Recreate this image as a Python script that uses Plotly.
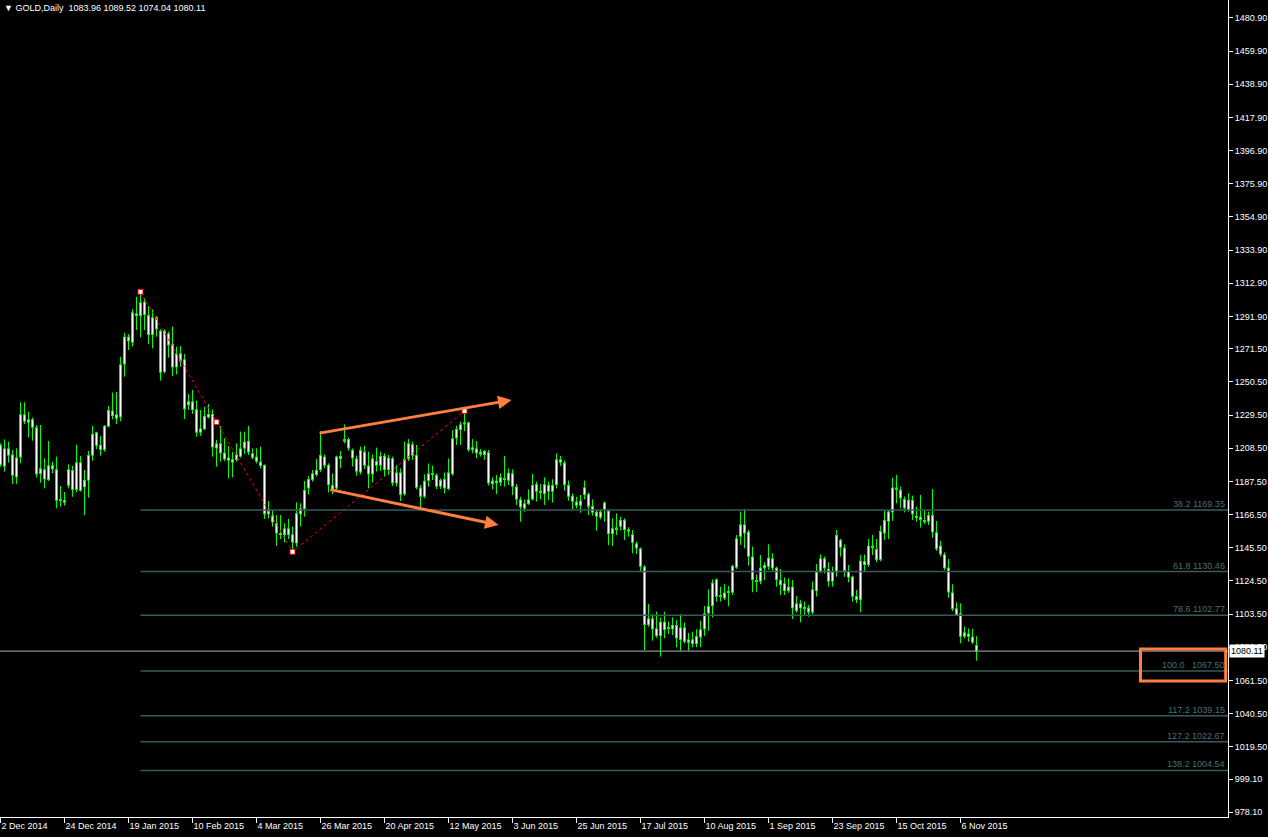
import pandas as pd
import plotly.graph_objects as go

# ---- trading calendar (weekdays without exchange holidays) ----
holidays = ["2014-12-25", "2015-01-01", "2015-04-03"]
all_days = pd.bdate_range("2014-12-02", "2015-11-12")
dates = [d for d in all_days if d.strftime("%Y-%m-%d") not in holidays]

# ---- GOLD daily OHLC ----
open_ = [
    1210.6, 1196.8, 1208.4, 1204.6, 1190.1, 1202.7, 1230.0, 1224.7, 1226.8, 1221.7,
    1192.2, 1195.2, 1188.4, 1197.7, 1195.2, 1175.3, 1175.7, 1184.8, 1194.7, 1182.1,
    1199.6, 1183.8, 1188.0, 1203.8, 1218.6, 1210.6, 1207.4, 1222.2, 1232.3, 1227.2,
    1228.1, 1261.6, 1279.1, 1275.3, 1293.9, 1292.2, 1301.3, 1292.8, 1280.2, 1291.4,
    1282.9, 1256.8, 1281.2, 1274.5, 1259.7, 1268.6, 1264.8, 1235.7, 1238.2, 1233.1,
    1218.4, 1220.5, 1227.9, 1230.2, 1208.4, 1211.6, 1205.7, 1202.7, 1199.4, 1201.1,
    1203.2, 1208.4, 1213.1, 1205.3, 1203.2, 1200.0, 1197.9, 1166.7, 1166.2, 1161.0,
    1154.6, 1153.6, 1157.8, 1154.0, 1148.3, 1166.7, 1170.0, 1183.1, 1188.4, 1191.6,
    1194.7, 1203.2, 1197.9, 1185.2, 1183.1, 1203.6, 1212.7, 1214.3, 1207.4, 1202.1,
    1193.2, 1206.3, 1197.5, 1192.0, 1200.4, 1197.5, 1203.8, 1194.7, 1202.1, 1186.3,
    1193.2, 1179.3, 1201.7, 1211.0, 1204.2, 1183.5, 1177.8, 1187.8, 1192.6, 1191.6,
    1184.2, 1189.0, 1182.7, 1192.0, 1214.8, 1220.0, 1223.6, 1224.9, 1207.4, 1208.4,
    1206.3, 1204.2, 1205.9, 1185.8, 1188.0, 1186.7, 1189.4, 1188.0, 1192.6, 1184.2,
    1176.1, 1170.4, 1173.2, 1176.1, 1185.8, 1181.6, 1179.5, 1185.2, 1181.0, 1185.2,
    1201.5, 1199.4, 1185.2, 1178.3, 1174.7, 1172.1, 1178.9, 1179.5, 1171.9, 1168.3,
    1164.7, 1169.4, 1169.0, 1154.2, 1157.2, 1158.8, 1163.1, 1155.7, 1154.0, 1148.3,
    1145.1, 1133.5, 1096.6, 1100.8, 1094.5, 1089.6, 1098.7, 1093.9, 1096.6, 1096.6,
    1087.1, 1095.1, 1087.5, 1084.6, 1089.6, 1088.8, 1093.9, 1104.0, 1108.6, 1125.5,
    1115.0, 1113.5, 1117.7, 1117.1, 1132.9, 1152.5, 1160.3, 1155.7, 1139.9, 1125.1,
    1124.1, 1132.5, 1133.5, 1138.8, 1132.9, 1125.1, 1123.0, 1118.1, 1120.9, 1105.5,
    1110.3, 1108.2, 1107.6, 1104.6, 1118.1, 1130.4, 1138.8, 1132.1, 1124.1, 1130.0,
    1150.4, 1145.6, 1130.8, 1127.2, 1115.0, 1112.4, 1137.1, 1134.6, 1146.8, 1144.7,
    1137.8, 1154.6, 1162.0, 1167.9, 1183.6, 1182.1, 1176.4, 1169.4, 1175.8, 1165.8,
    1165.2, 1163.1, 1162.0, 1166.2, 1155.3, 1146.8, 1141.3, 1132.9, 1117.3, 1107.2,
    1104.0, 1089.2, 1091.3, 1089.2, 1083.96,
]
high = [
    1211.6, 1214.1, 1212.7, 1207.4, 1208.4, 1237.6, 1237.6, 1231.7, 1227.9, 1223.2,
    1223.2, 1202.1, 1213.1, 1200.0, 1203.2, 1184.6, 1180.8, 1198.3, 1197.3, 1210.6,
    1203.6, 1194.7, 1206.8, 1222.6, 1219.0, 1216.3, 1223.2, 1235.2, 1243.7, 1244.1,
    1266.3, 1281.5, 1280.8, 1296.6, 1304.4, 1307.2, 1303.4, 1298.5, 1296.4, 1292.2,
    1283.8, 1283.8, 1282.3, 1285.5, 1272.8, 1273.2, 1268.2, 1242.8, 1245.4, 1238.6,
    1232.7, 1234.8, 1236.5, 1233.1, 1213.7, 1222.6, 1214.8, 1209.9, 1206.3, 1211.6,
    1219.0, 1219.0, 1222.6, 1208.4, 1208.4, 1209.5, 1198.3, 1175.1, 1169.4, 1166.2,
    1166.2, 1161.0, 1163.7, 1158.9, 1174.3, 1173.6, 1187.8, 1190.9, 1194.7, 1201.7,
    1219.4, 1204.6, 1198.9, 1192.6, 1203.8, 1206.8, 1223.6, 1215.2, 1208.4, 1203.8,
    1209.5, 1210.1, 1206.3, 1204.6, 1208.9, 1206.3, 1205.3, 1204.2, 1203.2, 1197.9,
    1195.8, 1212.7, 1214.3, 1212.7, 1210.6, 1185.2, 1192.0, 1198.9, 1197.5, 1192.6,
    1189.4, 1193.2, 1202.1, 1220.0, 1222.8, 1225.3, 1232.1, 1225.3, 1214.3, 1213.1,
    1208.0, 1207.4, 1207.4, 1190.1, 1191.5, 1192.6, 1203.6, 1195.8, 1195.1, 1185.8,
    1177.8, 1176.1, 1182.5, 1192.2, 1187.3, 1185.8, 1190.1, 1187.3, 1188.8, 1205.3,
    1203.6, 1200.6, 1188.0, 1179.9, 1177.8, 1178.9, 1188.0, 1180.4, 1176.1, 1169.4,
    1169.8, 1174.7, 1169.8, 1164.1, 1167.3, 1165.2, 1164.1, 1158.4, 1156.7, 1149.3,
    1145.7, 1134.6, 1109.9, 1103.6, 1105.0, 1101.4, 1105.0, 1098.7, 1101.4, 1099.8,
    1103.6, 1098.1, 1091.7, 1092.4, 1093.9, 1099.3, 1108.6, 1119.2, 1125.5, 1126.1,
    1120.9, 1122.5, 1121.3, 1134.8, 1153.6, 1168.4, 1170.1, 1156.8, 1146.2, 1128.7,
    1140.9, 1136.3, 1147.7, 1142.0, 1133.5, 1132.1, 1126.6, 1126.2, 1125.1, 1115.0,
    1112.4, 1111.4, 1109.3, 1124.1, 1135.2, 1141.3, 1139.9, 1136.3, 1133.5, 1156.8,
    1151.1, 1147.7, 1134.6, 1127.9, 1118.8, 1140.9, 1141.3, 1151.1, 1153.6, 1151.1,
    1159.5, 1168.8, 1169.4, 1189.9, 1191.6, 1184.2, 1177.9, 1180.0, 1178.5, 1171.5,
    1178.9, 1169.4, 1168.4, 1182.7, 1162.5, 1149.8, 1142.6, 1138.4, 1122.4, 1111.0,
    1110.3, 1095.6, 1094.5, 1094.1, 1089.52,
]
low = [
    1196.8, 1193.7, 1199.4, 1185.9, 1185.9, 1199.0, 1223.8, 1215.4, 1213.3, 1190.1,
    1186.7, 1183.1, 1187.8, 1192.6, 1170.5, 1171.5, 1172.2, 1183.1, 1177.8, 1180.6,
    1181.0, 1166.2, 1177.2, 1200.6, 1208.0, 1203.8, 1206.3, 1221.7, 1226.8, 1223.8,
    1225.5, 1253.8, 1270.7, 1272.8, 1283.3, 1278.7, 1283.3, 1274.5, 1271.7, 1279.1,
    1251.3, 1255.9, 1265.8, 1254.2, 1255.3, 1260.1, 1227.0, 1232.7, 1230.2, 1215.8,
    1216.3, 1220.0, 1227.4, 1203.2, 1196.8, 1200.0, 1200.5, 1189.5, 1190.1, 1200.0,
    1202.5, 1204.9, 1204.2, 1201.5, 1198.9, 1195.8, 1163.7, 1164.1, 1158.9, 1146.8,
    1151.0, 1148.9, 1151.0, 1144.1, 1146.2, 1158.9, 1165.2, 1179.3, 1187.3, 1190.5,
    1193.5, 1195.9, 1180.6, 1179.5, 1181.6, 1195.8, 1211.6, 1206.9, 1196.9, 1191.1,
    1191.9, 1195.4, 1183.1, 1186.9, 1193.7, 1194.1, 1190.5, 1191.6, 1184.5, 1184.2,
    1175.1, 1178.5, 1200.5, 1201.1, 1182.5, 1170.5, 1176.8, 1184.2, 1188.4, 1182.7,
    1182.7, 1180.0, 1182.0, 1191.1, 1210.6, 1210.6, 1219.4, 1206.3, 1205.3, 1202.1,
    1203.2, 1201.1, 1184.9, 1182.5, 1179.5, 1184.6, 1184.2, 1185.2, 1178.9, 1172.6,
    1162.0, 1168.3, 1172.6, 1175.5, 1174.7, 1176.1, 1172.6, 1175.7, 1174.0, 1183.1,
    1197.2, 1181.6, 1175.3, 1169.8, 1170.4, 1167.7, 1176.1, 1166.2, 1165.9, 1156.3,
    1163.5, 1162.0, 1147.2, 1146.6, 1153.5, 1156.5, 1150.4, 1152.5, 1142.0, 1141.5,
    1130.4, 1080.8, 1095.5, 1086.7, 1088.5, 1076.6, 1088.2, 1090.9, 1090.3, 1082.5,
    1080.3, 1085.0, 1080.3, 1082.5, 1082.5, 1082.5, 1089.6, 1093.0, 1101.4, 1111.4,
    1111.4, 1112.5, 1108.6, 1115.6, 1132.1, 1147.3, 1145.2, 1134.2, 1117.3, 1117.7,
    1122.4, 1125.1, 1131.5, 1130.5, 1120.9, 1115.6, 1115.6, 1117.0, 1100.4, 1104.5,
    1098.3, 1103.0, 1101.9, 1103.4, 1114.6, 1129.5, 1129.3, 1120.9, 1120.9, 1127.2,
    1139.9, 1127.2, 1123.6, 1111.4, 1110.5, 1104.6, 1130.0, 1133.5, 1140.9, 1136.3,
    1136.9, 1150.4, 1151.1, 1162.5, 1173.6, 1170.5, 1167.9, 1168.4, 1163.1, 1162.0,
    1158.2, 1160.5, 1159.9, 1151.9, 1143.5, 1139.9, 1131.5, 1113.9, 1105.5, 1102.5,
    1085.0, 1088.2, 1086.1, 1084.5, 1074.04,
]
close = [
    1197.9, 1208.4, 1203.8, 1191.1, 1202.7, 1230.0, 1225.3, 1226.8, 1221.5, 1192.0,
    1195.8, 1188.8, 1197.7, 1195.2, 1175.3, 1176.2, 1174.0, 1195.2, 1182.1, 1199.6,
    1181.6, 1188.4, 1204.2, 1217.5, 1210.1, 1207.4, 1222.6, 1232.7, 1228.9, 1230.0,
    1261.6, 1279.1, 1276.2, 1294.5, 1292.2, 1300.9, 1292.8, 1280.2, 1291.4, 1283.8,
    1256.3, 1282.9, 1273.6, 1259.7, 1268.6, 1263.3, 1233.1, 1238.2, 1232.7, 1218.4,
    1221.1, 1228.9, 1230.2, 1209.1, 1211.6, 1205.3, 1201.5, 1200.6, 1201.5, 1204.6,
    1208.4, 1212.7, 1205.9, 1202.5, 1200.0, 1197.3, 1166.7, 1170.0, 1161.6, 1154.6,
    1153.6, 1157.8, 1153.6, 1148.9, 1167.3, 1170.5, 1182.1, 1189.0, 1192.6, 1194.7,
    1204.2, 1197.5, 1185.2, 1182.1, 1203.2, 1201.7, 1214.3, 1208.4, 1202.1, 1193.7,
    1207.4, 1197.5, 1192.0, 1202.1, 1197.5, 1203.6, 1194.7, 1202.5, 1186.3, 1193.2,
    1178.9, 1201.7, 1211.6, 1203.8, 1183.5, 1177.8, 1187.8, 1192.6, 1191.6, 1184.2,
    1188.4, 1183.1, 1193.2, 1214.8, 1220.7, 1223.6, 1224.9, 1207.4, 1209.1, 1205.3,
    1204.6, 1206.8, 1186.3, 1188.0, 1186.3, 1190.1, 1188.4, 1193.0, 1184.2, 1176.1,
    1171.1, 1173.6, 1176.1, 1185.2, 1181.0, 1180.4, 1185.8, 1181.0, 1185.2, 1201.5,
    1199.4, 1185.2, 1177.8, 1174.7, 1172.1, 1175.3, 1183.7, 1171.5, 1167.7, 1165.2,
    1168.3, 1174.2, 1154.2, 1157.8, 1158.4, 1163.1, 1156.7, 1157.2, 1148.7, 1145.1,
    1133.5, 1096.6, 1100.8, 1093.9, 1089.6, 1098.7, 1093.4, 1095.5, 1093.9, 1088.2,
    1095.1, 1086.0, 1085.4, 1087.5, 1084.6, 1093.9, 1104.0, 1108.6, 1123.4, 1114.5,
    1114.5, 1117.1, 1117.1, 1134.0, 1151.5, 1160.3, 1154.6, 1139.9, 1125.1, 1124.1,
    1132.9, 1134.6, 1139.2, 1132.5, 1125.1, 1121.9, 1118.1, 1120.9, 1107.2, 1110.3,
    1107.2, 1106.7, 1104.6, 1119.2, 1130.4, 1138.8, 1132.5, 1124.1, 1130.4, 1153.6,
    1145.6, 1130.8, 1126.6, 1114.6, 1112.4, 1137.3, 1134.6, 1146.8, 1145.2, 1137.8,
    1156.1, 1163.1, 1168.4, 1183.6, 1182.1, 1176.8, 1170.5, 1175.8, 1166.7, 1164.6,
    1163.1, 1161.6, 1166.2, 1155.3, 1144.7, 1141.3, 1132.5, 1117.3, 1106.7, 1103.0,
    1089.2, 1092.0, 1089.2, 1085.6, 1080.11,
]

# ---- axis labels ----
y_ticks = [1480.90, 1459.90, 1438.90, 1417.90, 1396.90, 1375.90, 1354.90, 1333.90,
           1312.90, 1291.90, 1271.50, 1250.50, 1229.50, 1208.50, 1187.50, 1166.50,
           1145.50, 1124.50, 1103.50, 1082.50, 1061.50, 1040.50, 1019.50, 999.10, 978.10]
x_tick_every = 16

# ---- Fibonacci retracement levels ----
fib_pct = ["38.2", "61.8", "78.6", "100.0", "117.2", "127.2", "138.2"]
fib_price = [1169.35, 1130.46, 1102.77, 1067.50, 1039.15, 1022.67, 1004.54]
fib_start_bar = 35

# ---- zigzag swing points (bar index, price) ----
swing_bar = [35, 54, 73, 116]
swing_price = [1307.5, 1225.0, 1143.0, 1232.1]

# ---- hand-drawn orange trend arrows (tail bar, tail price, head bar, head price) ----
arrows = [
    (79.4, 1217.9, 127.75, 1239.0),
    (82.1, 1182.5, 124.5, 1159.9),
]
last_price = close[-1]
header = "GOLD,Daily  1083.96 1089.52 1074.04 1080.11"

GREEN = "#00FF00"
ORANGE = "#FF7F3F"
FIB = "#3A5A5A"
FIBTXT = "#4C6E6E"
FONT = "Liberation Sans"

n = len(close)
xs = list(range(n))

# candle geometry derived from the OHLC lists
wick_x, wick_y, core_x, core_y = [], [], [], []
body_base, body_len = [], []
for i in xs:
    top, bot = max(open_[i], close[i]), min(open_[i], close[i])
    wick_x += [i, i, None]
    wick_y += [low[i], high[i], None]
    body_base.append(bot)
    body_len.append(max(top - bot, 0.65))
    if top - bot > 1.6:
        core_x += [i, i, None]
        core_y += [bot + 0.65, top - 0.65, None]

fig = go.Figure()
fig.add_trace(go.Scatter(x=wick_x, y=wick_y, mode="lines",
                         line=dict(color=GREEN, width=1),
                         hoverinfo="skip", showlegend=False))
fig.add_trace(go.Bar(x=xs, y=body_len, base=body_base, width=0.75,
                     marker=dict(color=GREEN, line=dict(width=0)),
                     hoverinfo="skip", showlegend=False))
fig.add_trace(go.Scatter(x=core_x, y=core_y, mode="lines",
                         line=dict(color="#FFFFFF", width=1),
                         hoverinfo="skip", showlegend=False))

# zigzag dotted red line (Jan high -> Mar low -> May high)
zz_idx = [0, 2, 3]
fig.add_trace(go.Scatter(
    x=[swing_bar[i] for i in zz_idx], y=[swing_price[i] for i in zz_idx],
    mode="lines", line=dict(color="#FF0000", width=1, dash="dot"),
    hoverinfo="skip", showlegend=False,
))
fig.add_trace(go.Scatter(
    x=swing_bar, y=swing_price, mode="markers",
    marker=dict(symbol="square", size=5, color="#FFFFFF",
                line=dict(color="#FF0000", width=1)),
    hoverinfo="skip", showlegend=False,
))

shapes = []
annotations = []
for pct, price in zip(fib_pct, fib_price):
    shapes.append(dict(type="line", xref="x", yref="y", x0=fib_start_bar, x1=307,
                       y0=price, y1=price, line=dict(color=FIB, width=1.5)))
    label = f"{pct}   {price:.2f}" if pct == "100.0" else f"{pct} {price:.2f}"
    annotations.append(dict(x=306.6, y=price, xref="x", yref="y", text=label,
                            showarrow=False, xanchor="right", yanchor="bottom",
                            yshift=-1, font=dict(family=FONT, size=9, color=FIBTXT)))

# current price line
shapes.append(dict(type="line", xref="paper", yref="y", x0=0, x1=1,
                   y0=last_price, y1=last_price, line=dict(color="#B4B4B4", width=1)))
# orange rectangle around the 100% level label
shapes.append(dict(type="rect", xref="x", yref="y", x0=285.0, x1=306.3,
                   y0=1061.2, y1=1081.4, line=dict(color=ORANGE, width=3)))

for tx, ty, hx, hy in arrows:
    annotations.append(dict(x=hx, y=hy, ax=tx, ay=ty, xref="x", yref="y",
                            axref="x", ayref="y", text="", showarrow=True,
                            arrowhead=2, arrowsize=0.9, arrowwidth=3, arrowcolor=ORANGE))

annotations.append(dict(x=1, y=last_price, xref="paper", yref="y", text=f"{last_price:.2f}",
                        showarrow=False, xanchor="left", yanchor="middle", xshift=1,
                        bgcolor="#FFFFFF", borderpad=1,
                        font=dict(family=FONT, size=9, color="#000000")))
annotations.append(dict(x=0, y=1, xref="paper", yref="paper", text="\u25BC " + header,
                        showarrow=False, xanchor="left", yanchor="top", xshift=2, yshift=-1,
                        font=dict(family=FONT, size=9, color="#FFFFFF")))

tick_idx = list(range(0, n, x_tick_every))
tick_txt = [f"{dates[i].day} {dates[i].strftime('%b %Y')}" for i in tick_idx]

fig.update_layout(
    width=1268, height=837,
    paper_bgcolor="#000000", plot_bgcolor="#000000",
    margin=dict(l=0, r=40, t=0, b=20),
    showlegend=False, barmode="overlay",
    shapes=shapes, annotations=annotations,
    xaxis=dict(range=[-0.125, 306.875], tickvals=tick_idx, ticktext=tick_txt,
               ticklabelposition="outside right", ticks="outside", ticklen=5,
               tickcolor="#FFFFFF", showgrid=False, zeroline=False,
               showline=True, linecolor="#FFFFFF", linewidth=1,
               tickfont=dict(family=FONT, size=9, color="#FFFFFF")),
    yaxis=dict(range=[975.1, 1492.2], side="right", tickvals=y_ticks,
               ticktext=[f"{v:.2f}" for v in y_ticks], ticks="outside", ticklen=4,
               tickcolor="#FFFFFF", showgrid=False, zeroline=False,
               showline=True, linecolor="#FFFFFF", linewidth=1,
               tickfont=dict(family=FONT, size=9, color="#FFFFFF")),
)

fig.write_html("out.html", config={"displayModeBar": False},
               post_script="document.body.style.margin='0';")
